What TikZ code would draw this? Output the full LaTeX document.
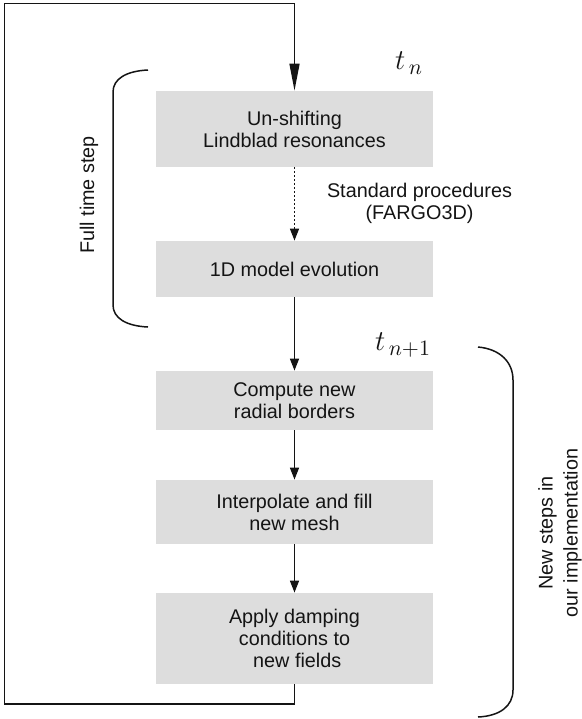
\documentclass[tikz,border=0pt]{standalone}
\usepackage{fontspec}
\setmainfont{Liberation Sans}
\usetikzlibrary{arrows.meta}
\definecolor{boxgray}{RGB}{221,221,221}
\definecolor{inkc}{RGB}{20,20,20}
\begin{document}
\begin{tikzpicture}[x=0.5pt,y=-0.5pt,
  txt/.style={font=\fontsize{9.9}{11}\selectfont, text=inkc, align=center},
  stepbox/.style={txt, fill=boxgray, minimum width=138.5pt, inner sep=0pt},
  conn/.style={line width=0.75pt, draw=inkc, -{Triangle[length=6pt,width=4.5pt]}},
  looparrow/.style={line width=0.75pt, draw=inkc, -{Triangle[length=13.5pt,width=5pt]}},
  bracepath/.style={line width=0.75pt, draw=inkc},
  timelbl/.style={inner sep=0pt, text=inkc, font=\fontsize{15}{17}\selectfont}]
\useasboundingbox (0,0) rectangle (582,719);
% boxes
\node[stepbox, minimum height=38pt]   (b1) at (294.5,129)   {Un-shifting\\Lindblad resonances};
\node[stepbox, minimum height=28pt]   (b2) at (294.5,269)   {1D model evolution};
\node[stepbox, minimum height=29.5pt] (b3) at (294.5,400.5) {Compute new\\radial borders};
\node[stepbox, minimum height=32pt]   (b4) at (294.5,512)   {Interpolate and fill\\new mesh};
\node[stepbox, minimum height=45.5pt] (b5) at (294.5,638.5) {Apply damping\\conditions to\\\ new fields};
% labels
\node[txt] (std) at (419.5,203) {Standard procedures\\(FARGO3D)};
\node[timelbl] (tn) at (409,63) {$t_{\,n}$};
\node[timelbl] (tn1) at (403,345) {$t_{\,n+1}$};
\node[txt, rotate=90] (fts) at (89,195) {Full time step};
\node[txt, rotate=90, font=\fontsize{9.9}{12.5}\selectfont] (nsi) at (560,533) {New steps in\\our implementation};
% connectors
\draw[conn, dash pattern=on 1pt off 1pt] (b1) -- (b2);
\draw[conn] (b2) -- (b3);
\draw[conn] (b3) -- (b4);
\draw[conn] (b4) -- (b5);
\coordinate (cbl) at (4.7,704);
\coordinate (ctl) at (4.7,3.3);
\draw[looparrow] (b5.south) |- (cbl) -- (ctl) -| (b1.north);
% braces
\draw[bracepath] (148,70) .. controls (126,71) and (113,79) .. (113,92) -- (113,305) .. controls (113,318) and (126,326) .. (148,327);
\draw[bracepath] (478,347) .. controls (500,349) and (513,362) .. (513,380) -- (513,690) .. controls (513,706) and (500,716) .. (478,717);
\end{tikzpicture}
\end{document}
